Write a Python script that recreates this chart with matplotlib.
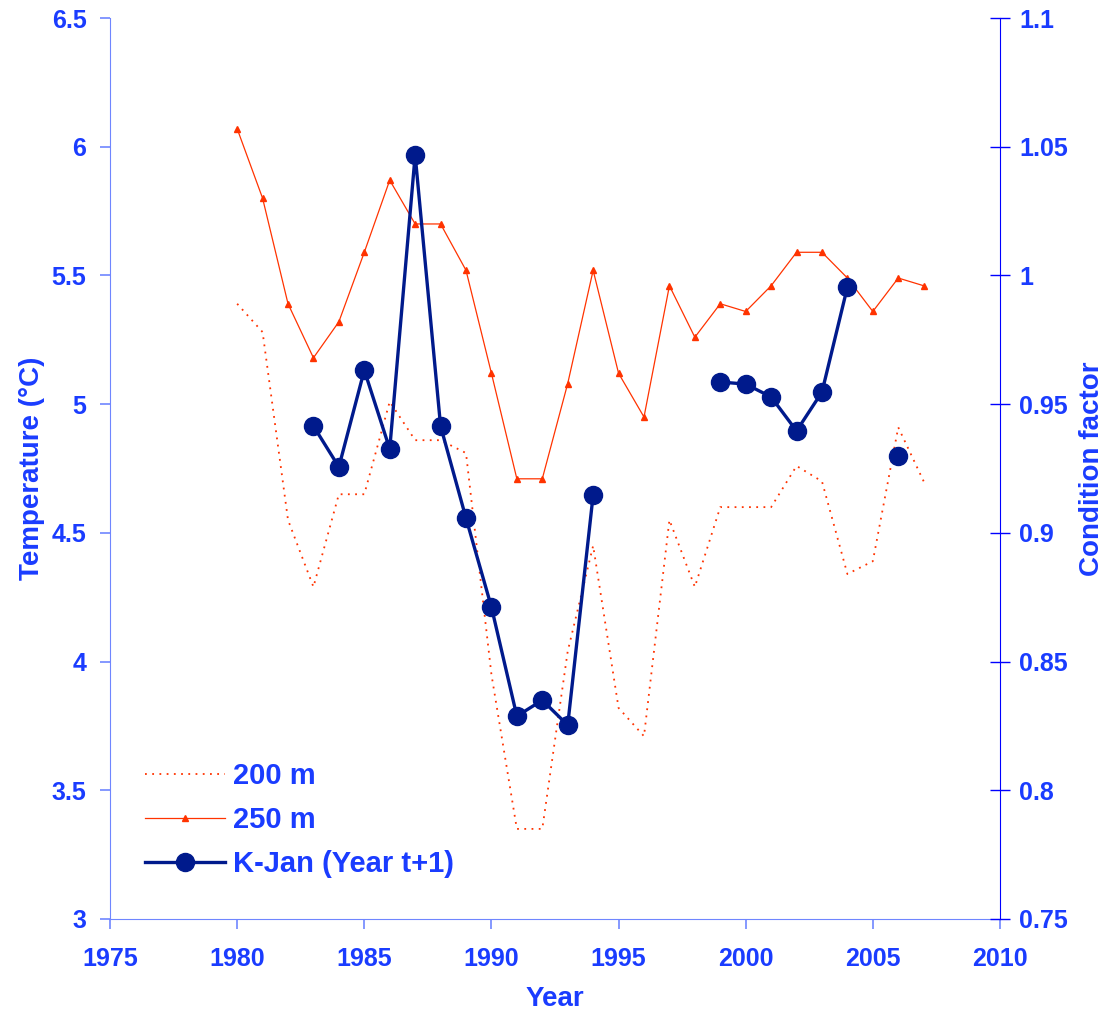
import matplotlib.pyplot as plt
import numpy as np

plt.rcParams['font.family'] = ['Liberation Sans', 'DejaVu Sans']
plt.rcParams['font.weight'] = 'bold'

# temperature at depth (deg C), 1980-2007
years = np.arange(1980, 2008)
t200 = [5.39, 5.28, 4.55, 4.29, 4.65, 4.65, 5.01, 4.86, 4.86, 4.81,
        3.95, 3.35, 3.35, 4.04, 4.45, 3.82, 3.71, 4.55, 4.29, 4.60,
        4.60, 4.60, 4.76, 4.70, 4.34, 4.39, 4.91, 4.70]
t250 = [6.07, 5.80, 5.39, 5.18, 5.32, 5.59, 5.87, 5.70, 5.70, 5.52,
        5.12, 4.71, 4.71, 5.08, 5.52, 5.12, 4.95, 5.46, 5.26, 5.39,
        5.36, 5.46, 5.59, 5.59, 5.49, 5.36, 5.49, 5.46]

# condition factor, January of following year (nan = missing)
k_years = np.arange(1983, 2007)
k_jan = [0.9415, 0.9256, 0.9632, 0.9326, 1.0468, 0.9415, 0.9057, 0.8712,
         0.8288, 0.8350, 0.8253, 0.9147, np.nan, np.nan, np.nan, np.nan,
         0.9586, 0.9578, 0.9528, 0.9396, 0.9547, 0.9955, np.nan, 0.9298]

blue = '#1a3cff'
spine_light = '#6f86ff'
red = '#ff3300'
navy = '#001a8c'

fig = plt.figure(figsize=(11.08, 10.13), dpi=100)
ax = fig.add_axes([0.0993, 0.0928, 0.8032, 0.8894])
ax2 = ax.twinx()

l1, = ax.plot(years, t200, color=red, linestyle=(0, (1, 3)), lw=1.3,
              label='200 m')
l2, = ax.plot(years, t250, color=red, lw=0.9, marker='^', markersize=4,
              label='250 m')
l3, = ax2.plot(k_years, k_jan, color=navy, lw=2.4, marker='o',
               markersize=13, label='K-Jan (Year t+1)')

ax.set_xlim(1975, 2010)
ax.set_ylim(3, 6.5)
ax2.set_ylim(0.75, 1.1)
ax.set_xticks(np.arange(1975, 2011, 5))
ax.set_yticks(np.arange(3, 6.51, 0.5))
ax.set_yticklabels(['3', '3.5', '4', '4.5', '5', '5.5', '6', '6.5'])
ax2.set_yticks(np.arange(0.75, 1.101, 0.05))
ax2.set_yticklabels(['0.75', '0.8', '0.85', '0.9', '0.95', '1', '1.05', '1.1'])

for a in (ax, ax2):
    a.spines['top'].set_visible(False)
ax.spines['left'].set_color(spine_light)
ax.spines['bottom'].set_color(spine_light)
ax.spines['right'].set_visible(False)
ax2.spines['left'].set_visible(False)
ax2.spines['bottom'].set_visible(False)
ax2.spines['right'].set_color('#0000ff')

ax.tick_params(axis='y', colors=spine_light, labelcolor=blue,
               labelsize=18, length=7, width=1.2, pad=10)
ax.tick_params(axis='x', colors=spine_light, labelcolor=blue,
               labelsize=18, length=7, width=1.2, pad=13)
ax2.tick_params(axis='y', direction='inout', colors='#0000ff',
                labelcolor=blue, labelsize=18, length=14, width=1.0, pad=7)

ax.set_xlabel('Year', color=blue, fontsize=20, fontweight='bold', labelpad=11)
ax.set_ylabel('Temperature (°C)', color=blue, fontsize=20, fontweight='bold',
              labelpad=5)
ax2.set_ylabel('Condition factor', color=blue, fontsize=20, fontweight='bold',
               labelpad=8)

leg = ax2.legend(handles=[l1, l2, l3], loc='lower left',
                 bbox_to_anchor=(0.107, 0.107), bbox_transform=fig.transFigure,
                 frameon=False, fontsize=21, handlelength=2.75,
                 labelspacing=0.55, handletextpad=0.28)
for txt in leg.get_texts():
    txt.set_color(blue)
    txt.set_fontweight('bold')

fig.savefig('out.png', dpi=100)
